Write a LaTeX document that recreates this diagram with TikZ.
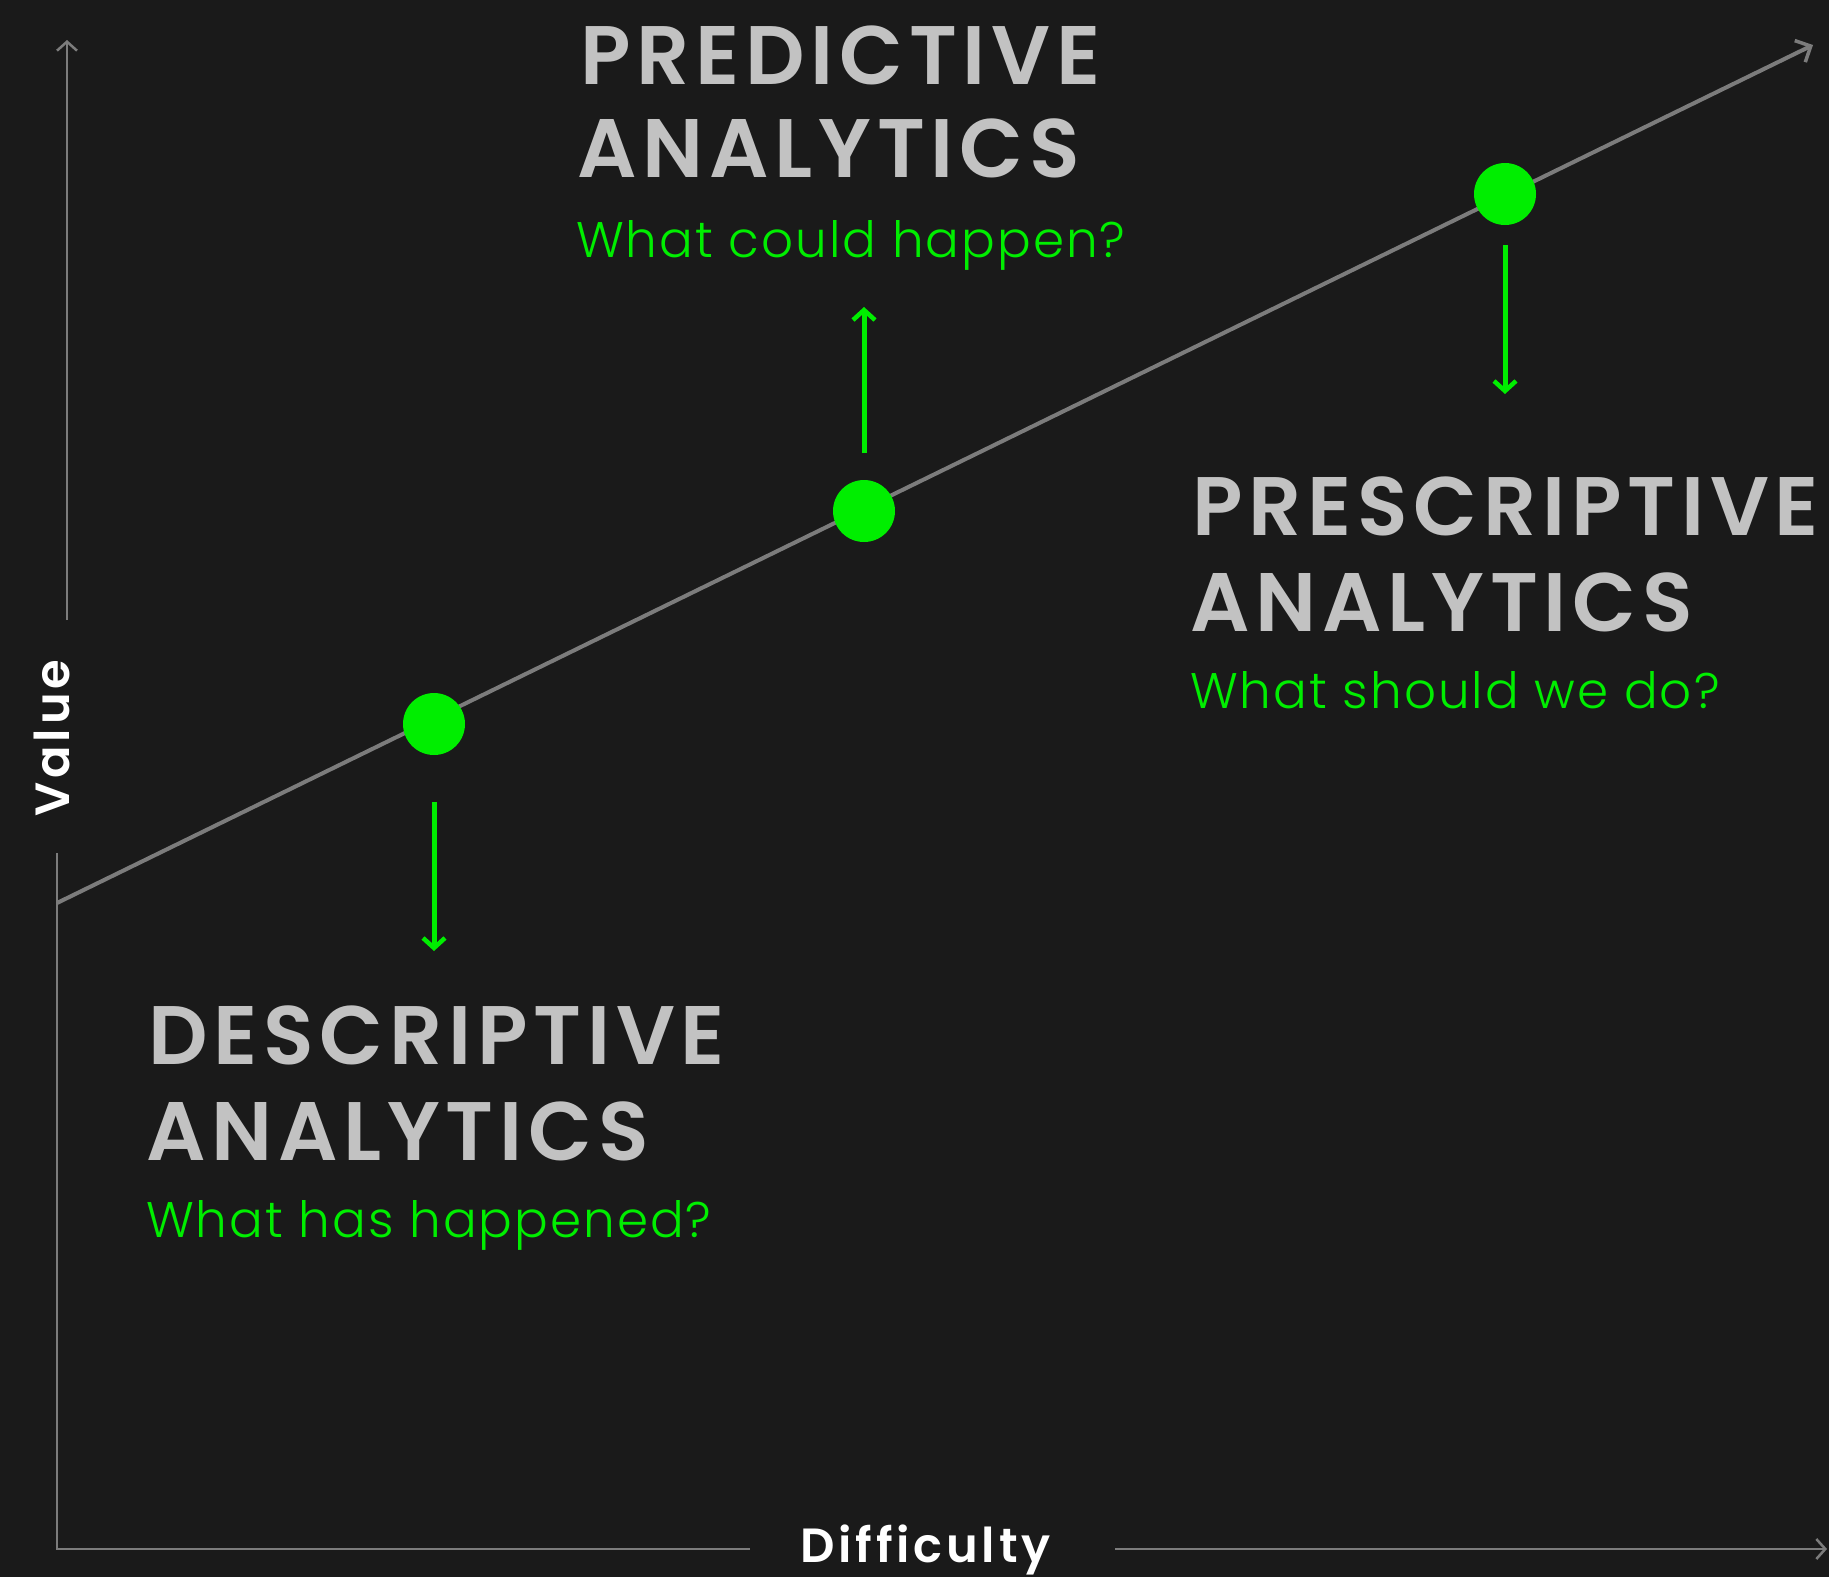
\documentclass[tikz,border=0pt]{standalone}
\usepackage{fontspec}
\usetikzlibrary{arrows.meta}
\newfontfamily\ttlfont{Poppins SemiBold}[LetterSpace=7]
\newfontfamily\subfont{Poppins Light}[LetterSpace=4]
\newfontfamily\axfont{Poppins SemiBold}[LetterSpace=8]
\definecolor{bg}{HTML}{1A1A1A}
\definecolor{ttlgray}{HTML}{C2C2C2}
\definecolor{neon}{HTML}{00EE00}
\definecolor{axgray}{HTML}{7C7C7C}
\tikzset{
  axisline/.style={draw=axgray, line width=2.5pt},
  axarrow/.style={-{Straight Barb[length=9pt,width=20pt,line width=2.5pt]}},
  diagline/.style={draw=axgray, line width=4pt},
  greenarrow/.style={draw=neon, line width=5pt, -{Straight Barb[length=10pt,width=22pt,line width=4.5pt]}},
  dot/.style={circle, fill=neon, minimum size=62pt, inner sep=0pt},
  ttl/.style={anchor=base west, inner sep=0pt, text=ttlgray, font=\fontsize{83}{83}\ttlfont},
  sub/.style={anchor=base west, inner sep=0pt, text=neon, font=\fontsize{50}{50}\subfont},
  axlabel/.style={inner sep=0pt, text=white, font=\fontsize{48}{48}\axfont}
}
\begin{document}
\begin{tikzpicture}[x=1pt,y=-1pt]
\fill[bg] (0,0) rectangle (1829,1577);
\useasboundingbox (0,0) rectangle (1829,1577);
% axes
\coordinate (vtopS) at (67,620);
\coordinate (vtopE) at (67,40);
\coordinate (vbotS) at (57,853);
\coordinate (origin) at (57,1549);
\coordinate (hleftE) at (750,1549);
\coordinate (hrightS) at (1115,1549);
\coordinate (hrightE) at (1827,1549);
\draw[axisline, axarrow] (vtopS) -- (vtopE);
\draw[axisline] (vbotS) -- (origin) -- (hleftE);
\draw[axisline, axarrow] (hrightS) -- (hrightE);
\node[axlabel, rotate=90] (value) at (52,738) {Value};
\node[axlabel, anchor=base west] (difficulty) at (800,1562) {Difficulty};
% diagonal
\coordinate (dstart) at (57,903);
\coordinate (dend) at (1813,45);
\draw[diagline, -{Straight Barb[length=12pt,width=24pt,line width=3.5pt]}] (dstart) -- (dend);
% dots
\node[dot] (d1) at (434,724) {};
\node[dot] (d2) at (864,511) {};
\node[dot] (d3) at (1505,194) {};
% green arrows
\coordinate (a1s) at (434,802); \coordinate (a1e) at (434,951);
\coordinate (a2s) at (864,453); \coordinate (a2e) at (864,307);
\coordinate (a3s) at (1505,245); \coordinate (a3e) at (1505,394);
\draw[greenarrow] (a1s) -- (a1e);
\draw[greenarrow] (a2s) -- (a2e);
\draw[greenarrow] (a3s) -- (a3e);
% texts
\node[ttl] (pred1) at (580,84) {PREDICTIVE};
\node[ttl] (pred2) at (577,177) {ANALYTICS};
\node[sub] (pred3) at (576,257) {What could happen?};
\node[ttl] (pres1) at (1192,535) {PRESCRIPTIVE};
\node[ttl] (pres2) at (1190,631) {ANALYTICS};
\node[sub] (pres3) at (1190,708) {What should we do?};
\node[ttl] (desc1) at (148,1064) {DESCRIPTIVE};
\node[ttl] (desc2) at (146,1160) {ANALYTICS};
\node[sub] (desc3) at (146,1237) {What has happened?};
\end{tikzpicture}
\end{document}
